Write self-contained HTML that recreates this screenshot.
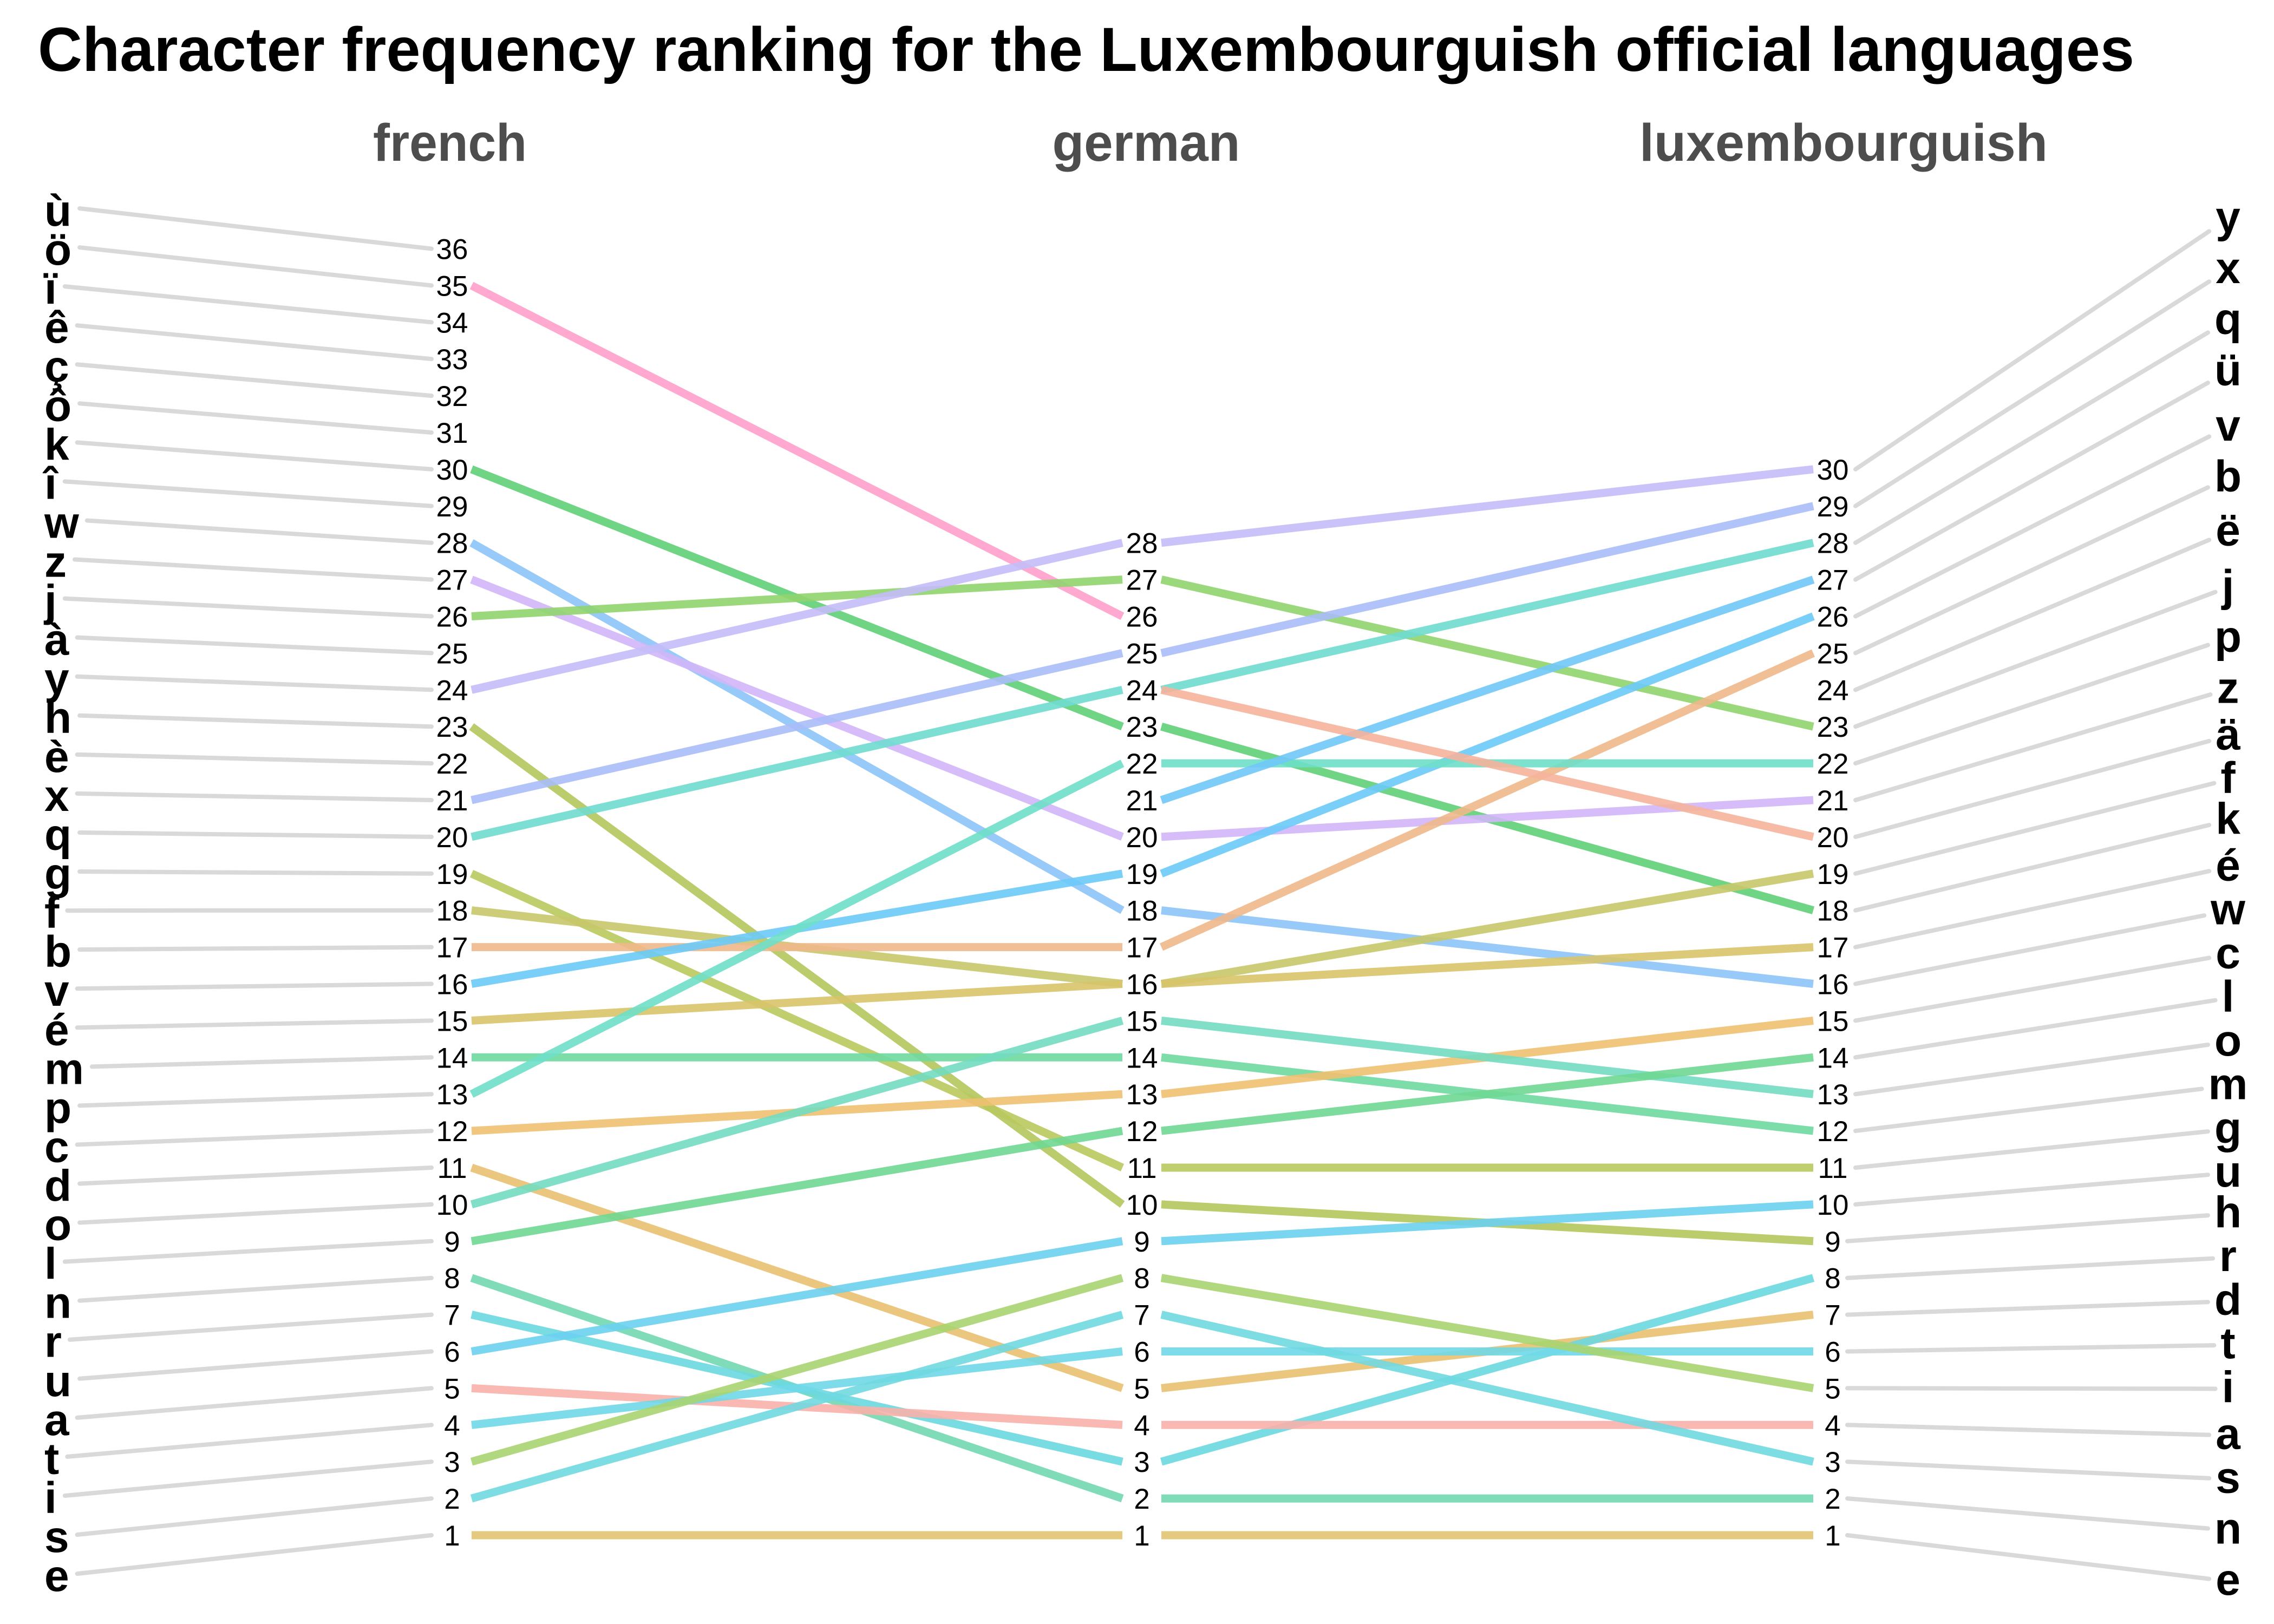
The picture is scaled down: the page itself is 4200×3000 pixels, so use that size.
<!DOCTYPE html>
<html><head><meta charset="utf-8">
<style>
html,body{margin:0;padding:0;background:#fff;}
svg{display:block;font-family:"Liberation Sans",sans-serif;}
</style></head>
<body>
<svg id="chart" width="4200" height="3000" viewBox="0 0 4200 3000" xmlns="http://www.w3.org/2000/svg">
<text x="70" y="131" font-size="115" font-weight="bold" fill="#000" textLength="3872" lengthAdjust="spacingAndGlyphs">Character frequency ranking for the Luxembourguish official languages</text>
<text x="831" y="297" font-size="97" font-weight="bold" fill="#4d4d4d" text-anchor="middle" textLength="284" lengthAdjust="spacingAndGlyphs">french</text>
<text x="2117" y="297" font-size="97" font-weight="bold" fill="#4d4d4d" text-anchor="middle" textLength="347" lengthAdjust="spacingAndGlyphs">german</text>
<text x="3405" y="297" font-size="97" font-weight="bold" fill="#4d4d4d" text-anchor="middle" textLength="754" lengthAdjust="spacingAndGlyphs">luxembourguish</text>
<g id="gray"></g><g id="colored"></g><g id="labels"></g>
</svg>
<script>
// ---- data ----
const letters = ["ù","ö","ï","ê","ç","ô","k","î","w","z","j","à","y","h","è","x","q","g","f","b","v","é","m","p","c","d","o","l","n","r","u","a","t","i","s","e","ü","ä","ë"];
const frenchRank = [36,35,34,33,32,31,30,29,28,27,26,25,24,23,22,21,20,19,18,17,16,15,14,13,12,11,10,9,8,7,6,5,4,3,2,1,null,null,null];
const germanRank = [null,26,null,null,null,null,23,null,18,20,27,null,28,10,null,25,24,11,16,17,19,16,14,22,13,5,15,12,2,3,9,4,6,8,7,1,21,24,null];
const luxRank = [null,null,null,null,null,null,18,null,16,21,23,null,30,9,null,29,28,11,19,25,26,17,12,22,15,7,13,14,2,8,10,4,6,5,3,1,27,20,24];
const colors = ["#ccc","#ff9ecb","#ccc","#ccc","#ccc","#ccc","#5fcf75","#ccc","#8cc4f8","#d1b6f8","#90d46e","#ccc","#c4bdf8","#b4c65c","#ccc","#aabdf8","#6fdccf","#bac95e","#c8c86a","#f0b88a","#6ccaf8","#d8c46a","#6fd9a0","#6edfc8","#f0c070","#e8c070","#72dcc0","#6fd892","#72d8b0","#6cd8e0","#6cd0f0","#f8b0a8","#70d8e8","#a8d470","#70d8e0","#e0c470","#70c8f8","#f5b39b","#ccc"];
const frenchLabels = [1,2,3,4,5,6,7,8,9,10,11,12,13,14,15,16,17,18,19,20,21,22,23,24,25,26,27,28,29,30,31,32,33,34,35,36];
const germanLabels = [1,2,3,4,5,6,7,8,9,10,11,12,13,14,15,16,17,18,19,20,21,22,23,24,25,26,27,28];
const luxLabels = [1,2,3,4,5,6,7,8,9,10,11,12,13,14,15,16,17,18,19,20,21,22,23,24,25,26,27,28,29,30];
const leftOrder = ["ù","ö","ï","ê","ç","ô","k","î","w","z","j","à","y","h","è","x","q","g","f","b","v","é","m","p","c","d","o","l","n","r","u","a","t","i","s","e"];
const rightOrder = ["y","x","q","ü","v","b","ë","j","p","z","ä","f","k","é","w","c","l","o","m","g","u","h","r","d","t","i","a","s","n","e"];
const rightPos = [150,185,220,255,293,328,365,403,438,473,505,535,563,595,625,655,685,715,745,775,805,833,863,893,923,953,985,1015,1050,1085];

// ---- axes ----
const NS = "http://www.w3.org/2000/svg";
const colX = [835, 2109, 3385];
function rankY(r){ return 2836 - (r-1)*67.9; }
const gray = document.getElementById('gray'), colored = document.getElementById('colored'), labels = document.getElementById('labels');
function mk(tag, attrs, parent){ const e=document.createElementNS(NS,tag); for(const k in attrs) e.setAttribute(k,attrs[k]); parent.appendChild(e); return e; }

// rank labels
[frenchLabels, germanLabels, luxLabels].forEach((arr, c) => {
  arr.forEach(r => {
    const t = mk('text', {x: colX[c], y: rankY(r)+19, 'font-size': 53, 'text-anchor':'middle', fill:'#000'}, labels);
    t.textContent = r;
    
    
  });
});

// colored lines
letters.forEach((L, i) => {
  const ranks = [frenchRank[i], germanRank[i], luxRank[i]];
  for (let c = 0; c < 2; c++) {
    if (ranks[c] == null || ranks[c+1] == null) continue;
    const ln = mk('line', {x1: colX[c]+36, y1: rankY(ranks[c]), x2: colX[c+1]-36, y2: rankY(ranks[c+1]), stroke: colors[i], 'stroke-width': 15, 'stroke-opacity': 0.9}, colored);
    
    
  }
});

// left letters
leftOrder.forEach((L, k) => {
  const i = letters.indexOf(L);
  const yl = 385 + k*72.06;
  const t = mk('text', {x: 82, y: yl+32, 'font-size': 82, 'font-weight':'bold', fill:'#000'}, labels);
  t.textContent = L;
  
  
  const w = t.getComputedTextLength();
  const g = mk('line', {x1: 82+w+15, y1: yl, x2: colX[0]-38, y2: rankY(frenchRank[i]), stroke:'#d9d9d9', 'stroke-width': 8, 'stroke-linecap':'round'}, gray);
  
  
});

// right letters
rightOrder.forEach((L, k) => {
  const i = letters.indexOf(L);
  const base = rightPos[k]*2.692 + 25;
  const t = mk('text', {x: 4115, y: base, 'font-size': 82, 'font-weight':'bold', fill:'#000', 'text-anchor':'middle'}, labels);
  t.textContent = L;
  
  
  const w = t.getComputedTextLength();
  const r = luxRank[i];
  const sx = colX[2] + (r >= 10 ? 30 : 15) + 12;
  const sy = rankY(r);
  const cx = 4115, cy = base - 25;
  const hw = w/2 + 12, hh = 42;
  const dx = cx - sx, dy = cy - sy;
  const tx = (dx - hw)/dx;
  const ty = Math.abs(dy) > hh ? (Math.abs(dy) - hh)/Math.abs(dy) : 0;
  const t1 = Math.max(tx, ty);
  const ex = sx + dx*t1, ey = sy + dy*t1;
  const g = mk('line', {x1: sx, y1: sy, x2: ex, y2: ey, stroke:'#d9d9d9', 'stroke-width': 8, 'stroke-linecap':'round'}, gray);
  
  
});
</script>
</body></html>
